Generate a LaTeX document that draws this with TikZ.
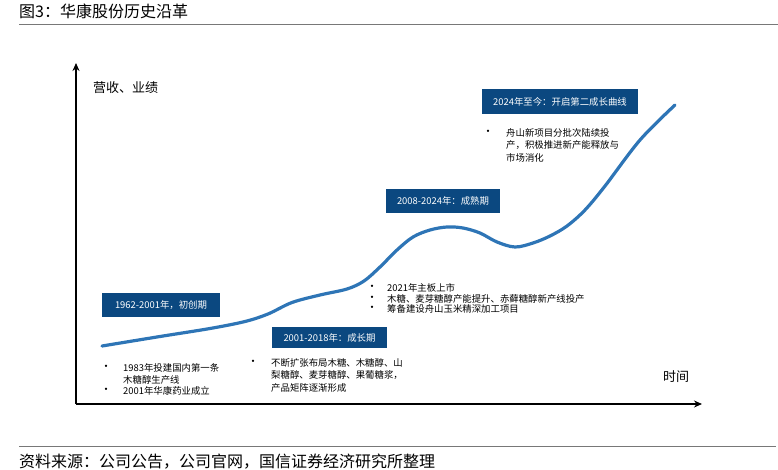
\documentclass[tikz,border=0pt]{standalone}
\usepackage{fontspec}
\newfontfamily\cjk{Noto Sans CJK SC}
\usetikzlibrary{arrows.meta}
\definecolor{navy}{RGB}{11,72,128}
\definecolor{curveblue}{RGB}{46,117,182}
\definecolor{rulegray}{RGB}{120,120,120}
\begin{document}
\begin{tikzpicture}[x=1pt,y=-1pt,font=\cjk,
  phasebox/.style={fill=navy,text=white,inner sep=0pt,anchor=center,
    font=\cjk\fontsize{9.4}{11}\selectfont},
  itemtext/.style={anchor=west,inner sep=0pt,font=\cjk\fontsize{9.4}{11}\selectfont},
  bulletmark/.style={anchor=center,inner sep=0pt,font=\cjk\fontsize{11}{12}\selectfont},
  axislabel/.style={anchor=west,inner sep=0pt,font=\cjk\fontsize{13}{15}\selectfont},
  axisline/.style={line width=1.8pt,-{Stealth[length=8pt,width=7pt]}},
  rule/.style={draw=rulegray,line width=0.9pt}]
\useasboundingbox (0,0) rectangle (778,470);
% title and rules
\node[anchor=west,inner sep=0pt,font=\cjk\fontsize{16}{18}\selectfont] (title) at (19,11) {图3：华康股份历史沿革};
\coordinate (tl) at (19,24); \coordinate (tr) at (778,24);
\draw[rule] (tl) -- (tr);
\coordinate (bl) at (19,446); \coordinate (br) at (776,446);
\draw[rule] (bl) -- (br);
\node[anchor=west,inner sep=0pt,font=\cjk\fontsize{16}{18}\selectfont] (source) at (19,462) {资料来源：公司公告，公司官网，国信证券经济研究所整理};
% axes
\coordinate (O) at (76,404);
\coordinate (ytip) at (76,63);
\coordinate (xtip) at (702,404);
\draw[axisline] (O) -- (ytip);
\draw[axisline] (O) -- (xtip);
\node[axislabel] (ylab) at (93,88) {营收、业绩};
\node[axislabel] (xlab) at (663,377) {时间};
% curve
\draw[curveblue,line width=3.2pt,line cap=round] plot[smooth,tension=0.55] coordinates {
 (102,346) (160,336.5) (210,328.5) (245,321.5) (268,314) (292,302.5) (320,295)
 (347,289) (364,281) (380,267) (397,250) (413,237) (430,230) (447,227)
 (463,228) (480,233) (497,242) (515,247) (533,243) (550,236) (567,226)
 (585,210) (605,186) (640,140) (675,105)};
% phase boxes
\node[phasebox,minimum width=118pt,minimum height=24pt] (p1) at (161,305) {1962-2001年，初创期};
\node[phasebox,minimum width=115pt,minimum height=21pt] (p2) at (329.5,337.5) {2001-2018年：成长期};
\node[phasebox,minimum width=114pt,minimum height=24pt] (p3) at (443,201) {2008-2024年：成熟期};
\node[phasebox,minimum width=156pt,minimum height=25pt] (p4) at (560,101.5) {2024年至今：开启第二成长曲线};
% phase 1 items
\node[bulletmark] (b1a) at (106,368) {•};
\node[itemtext] (t1a) at (123,368) {1983年投建国内第一条};
\node[itemtext] (t1b) at (123,379.5) {木糖醇生产线};
\node[bulletmark] (b1b) at (106,391) {•};
\node[itemtext] (t1c) at (123,391) {2001年华康药业成立};
% phase 2 items
\node[bulletmark] (b2a) at (253,363) {•};
\node[itemtext] (t2a) at (271,363) {不断扩张布局木糖、木糖醇、山};
\node[itemtext] (t2b) at (271,375.5) {梨糖醇、麦芽糖醇、果葡糖浆，};
\node[itemtext] (t2c) at (271,387.5) {产品矩阵逐渐形成};
% phase 3 items
\node[bulletmark] (b3a) at (372,288) {•};
\node[itemtext] (t3a) at (387,288) {2021年主板上市};
\node[bulletmark] (b3b) at (372,298.5) {•};
\node[itemtext] (t3b) at (387,298.5) {木糖、麦芽糖醇产能提升、赤藓糖醇新产线投产};
\node[bulletmark] (b3c) at (372,309) {•};
\node[itemtext] (t3c) at (387,309) {筹备建设舟山玉米精深加工项目};
% phase 4 items
\node[bulletmark] (b4a) at (488,133) {•};
\node[itemtext] (t4a) at (506,133) {舟山新项目分批次陆续投};
\node[itemtext] (t4b) at (506,145.5) {产，积极推进新产能释放与};
\node[itemtext] (t4c) at (506,158) {市场消化};
\end{tikzpicture}
\end{document}
